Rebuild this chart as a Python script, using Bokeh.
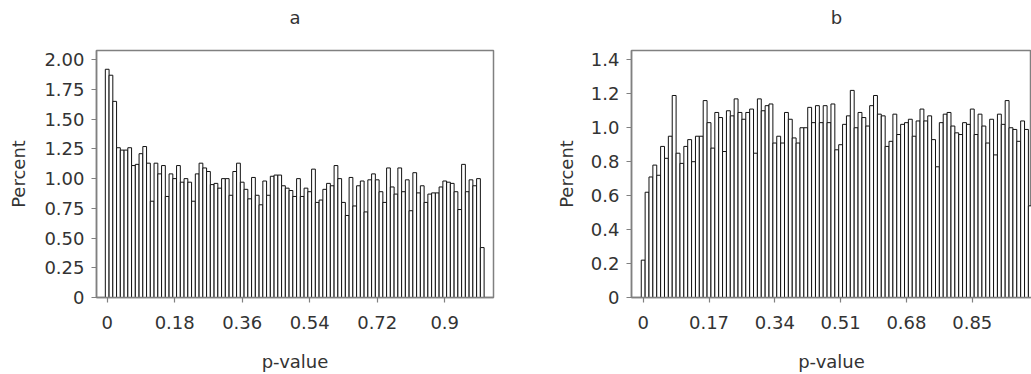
from bokeh.plotting import figure
from bokeh.models import Range1d, FixedTicker
from bokeh.layouts import row, column
from bokeh.core.properties import value
from bokeh.embed import file_html
from bokeh.resources import INLINE

# bin midpoints (0, 0.01, ..., 1.00)
midpoints = [round(i / 100, 2) for i in range(101)]

pct_a = [1.92, 1.87, 1.65, 1.26, 1.24, 1.24, 1.26, 1.11, 1.12, 1.21,
         1.27, 1.13, 0.81, 1.13, 1.04, 1.11, 0.85, 1.04, 1.00, 1.11,
         0.97, 1.00, 0.97, 0.81, 1.04, 1.13, 1.09, 1.06, 0.95, 0.96,
         0.92, 1.00, 1.00, 0.86, 1.06, 1.13, 0.97, 0.91, 0.83, 1.01,
         0.86, 0.78, 0.98, 0.86, 1.02, 1.03, 1.03, 0.94, 0.92, 0.90,
         0.85, 1.00, 0.85, 0.92, 0.89, 1.08, 0.80, 0.82, 0.91, 0.96,
         0.94, 1.11, 1.00, 0.80, 0.69, 1.01, 0.77, 0.94, 0.98, 0.72,
         0.99, 1.04, 0.99, 0.89, 0.80, 1.09, 0.93, 0.87, 1.09, 0.89,
         0.99, 0.73, 1.05, 0.88, 0.94, 0.80, 0.87, 0.88, 0.88, 0.93,
         0.98, 0.97, 0.96, 0.89, 0.74, 1.12, 0.89, 0.99, 0.94, 1.00,
         0.42]

pct_b = [0.22, 0.62, 0.71, 0.78, 0.72, 0.89, 0.82, 0.95, 1.19, 0.85,
         0.79, 0.89, 0.93, 0.80, 0.95, 0.95, 1.16, 1.03, 0.88, 1.09,
         1.06, 0.86, 1.10, 1.07, 1.17, 1.09, 1.05, 1.09, 1.11, 0.85,
         1.17, 1.10, 1.13, 1.14, 0.91, 0.95, 0.91, 1.09, 1.05, 0.94,
         0.91, 1.00, 1.00, 1.12, 1.03, 1.13, 1.03, 1.13, 1.03, 1.14,
         0.87, 0.90, 1.02, 1.07, 1.22, 1.00, 1.09, 1.06, 1.01, 1.13,
         1.19, 1.08, 1.07, 0.89, 0.92, 1.08, 0.96, 1.02, 1.03, 1.05,
         0.95, 1.04, 1.11, 1.04, 1.07, 0.93, 0.77, 1.03, 1.08, 1.09,
         1.01, 0.97, 0.96, 1.03, 1.02, 1.11, 0.96, 1.08, 1.01, 0.91,
         1.05, 0.84, 1.08, 1.02, 1.16, 1.00, 0.99, 0.92, 1.04, 0.99,
         0.54]

titles = ["a", "b"]

xticks_a = [0, 0.18, 0.36, 0.54, 0.72, 0.9]
xlabels_a = ["0", "0.18", "0.36", "0.54", "0.72", "0.9"]
yticks_a = [0, 0.25, 0.5, 0.75, 1.0, 1.25, 1.5, 1.75, 2.0]
ylabels_a = ["0", "0.25", "0.50", "0.75", "1.00", "1.25", "1.50", "1.75", "2.00"]

xticks_b = [0, 0.17, 0.34, 0.51, 0.68, 0.85]
xlabels_b = ["0", "0.17", "0.34", "0.51", "0.68", "0.85"]
yticks_b = [0, 0.2, 0.4, 0.6, 0.8, 1.0, 1.2, 1.4]
ylabels_b = ["0", "0.2", "0.4", "0.6", "0.8", "1.0", "1.2", "1.4"]

FONT = "DejaVu Sans"
TXT = "#333333"
AX = "#808080"
TITLE_H = 36


def title_fig(text, w, cx):
    # a thin strip holding the panel title, measured in pixels
    t = figure(width=w, height=TITLE_H, output_backend="svg",
               toolbar_location=None, x_axis_type=None, y_axis_type=None,
               x_range=Range1d(0, w), y_range=Range1d(0, TITLE_H),
               min_border=0)
    t.grid.visible = False
    t.outline_line_color = None
    t.text(x=[cx], y=[TITLE_H - 17], text=[text], text_align="center",
           text_baseline="middle", text_font=value(FONT),
           text_font_size="18px", text_color=TXT)
    return t


def make(vals, xr, yr, xt, xl, yt, yl, w, mbl, mbr, ytitle_std):
    p = figure(width=w, height=374 - TITLE_H, output_backend="svg",
               toolbar_location=None,
               x_range=Range1d(*xr), y_range=Range1d(*yr),
               min_border_left=mbl, min_border_right=mbr,
               min_border_top=50 - TITLE_H, min_border_bottom=77)
    p.vbar(x=midpoints, width=0.01, top=vals, bottom=0,
           fill_color="white", line_color="#111111", line_width=1)
    p.grid.visible = False
    p.outline_line_color = AX
    p.outline_line_width = 1.5
    p.background_fill_color = "white"
    p.border_fill_color = "white"

    p.xaxis.ticker = FixedTicker(ticks=xt)
    p.xaxis.major_label_overrides = {t: l for t, l in zip(xt, xl)}
    p.yaxis.ticker = FixedTicker(ticks=yt)
    p.yaxis.major_label_overrides = {t: l for t, l in zip(yt, yl)}
    for ax in (p.xaxis[0], p.yaxis[0]):
        ax.axis_line_color = AX
        ax.axis_line_width = 1.5
        ax.major_tick_line_color = AX
        ax.major_tick_line_width = 1.2
        ax.minor_tick_line_color = None
        ax.major_tick_in = 0
        ax.major_tick_out = 5
        ax.major_label_text_font = FONT
        ax.major_label_text_font_size = "18px"
        ax.major_label_text_color = TXT
        ax.axis_label_text_font = FONT
        ax.axis_label_text_font_size = "18px"
        ax.axis_label_text_font_style = "normal"
        ax.axis_label_text_color = TXT
    p.xaxis.axis_label = "p-value"
    p.xaxis.major_label_standoff = 13
    p.xaxis.axis_label_standoff = 19
    p.yaxis.axis_label = "Percent"
    p.yaxis.major_label_standoff = 7
    p.yaxis.axis_label_standoff = ytitle_std
    return p


pa = make(pct_a, (-0.0285, 1.030), (0, 2.078), xticks_a, xlabels_a,
          yticks_a, ylabels_a, 540, 96, 47, 12)
pb = make(pct_b, (-0.0302, 1.003), (0, 1.455), xticks_b, xlabels_b,
          yticks_b, ylabels_b, 491, 91, 0, 11)
ta = title_fig(titles[0], 540, 294.5)
tb = title_fig(titles[1], 491, 296)

layout = column(row(ta, tb), row(pa, pb))
open("out.html", "w").write(file_html(layout, INLINE))
